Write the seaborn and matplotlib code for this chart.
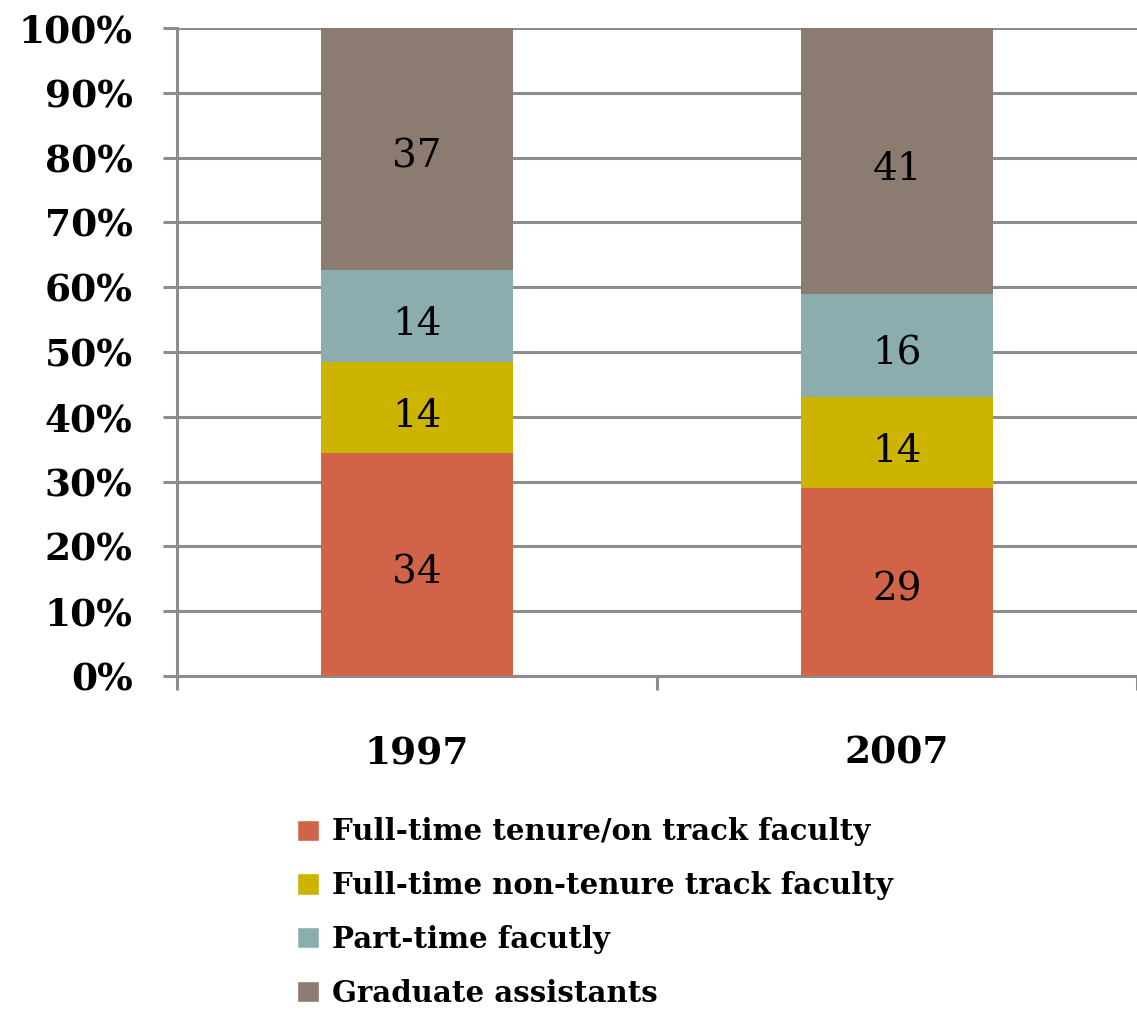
import numpy as np
import pandas as pd
import seaborn as sns
import matplotlib.pyplot as plt
from matplotlib.patches import Patch

# data
years = ['1997', '2007']
groups = ['Full-time tenure/on track faculty',
          'Full-time non-tenure track faculty',
          'Part-time facutly',
          'Graduate assistants']
tenure = [34, 29]
non_tenure = [14, 14]
part_time = [14, 16]
grad = [37, 41]
colors = ['#D16349', '#CCB400', '#8CADAE', '#8C7B70']

sns.set_style('white')
plt.rcParams['font.family'] = ['DejaVu Serif']
plt.rcParams['text.color'] = 'black'
plt.rcParams['xtick.color'] = 'black'
plt.rcParams['ytick.color'] = 'black'

df = pd.DataFrame({'year': years, groups[0]: tenure, groups[1]: non_tenure,
                   groups[2]: part_time, groups[3]: grad})
totals = df[groups].sum(axis=1)
pct = df[groups].div(totals, axis=0) * 100
cum = pct.cumsum(axis=1)

fig = plt.figure(figsize=(11.37, 10.16), dpi=100)
ax = fig.add_axes([0.1557, 0.3346, 0.8443, 0.6378])

# draw stacked bars top-down so lower segments cover upper ones
for g, c in reversed(list(zip(groups, colors))):
    sns.barplot(x=df['year'], y=cum[g], color=c, width=0.4, saturation=1,
                linewidth=0, ax=ax, zorder=3)

# segment labels
for i in range(len(years)):
    for g in groups:
        ax.annotate(str(df.loc[i, g]),
                    (i, cum.loc[i, g] - pct.loc[i, g] / 2),
                    xytext=(0, -6), textcoords='offset points',
                    ha='center', va='center', fontsize=28, color='black',
                    zorder=4)

ax.set_ylim(0, 100)
ax.set_xlim(-0.5, 1.5)
ax.set_yticks(np.arange(0, 101, 10))
ax.set_yticklabels([f'{v}%' for v in range(0, 101, 10)],
                   fontsize=27, fontweight='bold')
ax.yaxis.grid(True, color='#8C8C8C', linewidth=2.2, zorder=0)
ax.set_axisbelow(True)

ax.set_xticks([-0.5, 0.5, 1.5])
ax.set_xticklabels([])
ax.set_xticks([0, 1], minor=True)
ax.set_xticklabels(years, minor=True, fontsize=27, fontweight='bold')
ax.tick_params(axis='x', which='major', bottom=True, length=10, width=2.2,
               color='#8C8C8C')
ax.tick_params(axis='x', which='minor', bottom=True, length=0, pad=42)
ax.tick_params(axis='y', left=True, length=10, width=2.2, color='#8C8C8C',
               pad=22)
ax.set_xlabel('')
ax.set_ylabel('')

for s in ['top', 'right']:
    ax.spines[s].set_visible(False)
for s in ['left', 'bottom']:
    ax.spines[s].set_color('#8C8C8C')
    ax.spines[s].set_linewidth(2.2)

handles = [Patch(facecolor=c, label=g) for g, c in zip(groups, colors)]
leg = fig.legend(handles=handles, loc='upper left',
                 bbox_to_anchor=(0.251, 0.207), frameon=False,
                 prop={'size': 21, 'weight': 'bold'},
                 handlelength=0.75, handleheight=0.75, handletextpad=0.45,
                 labelspacing=0.85, borderaxespad=0)

fig.savefig('out.png', dpi=100)
